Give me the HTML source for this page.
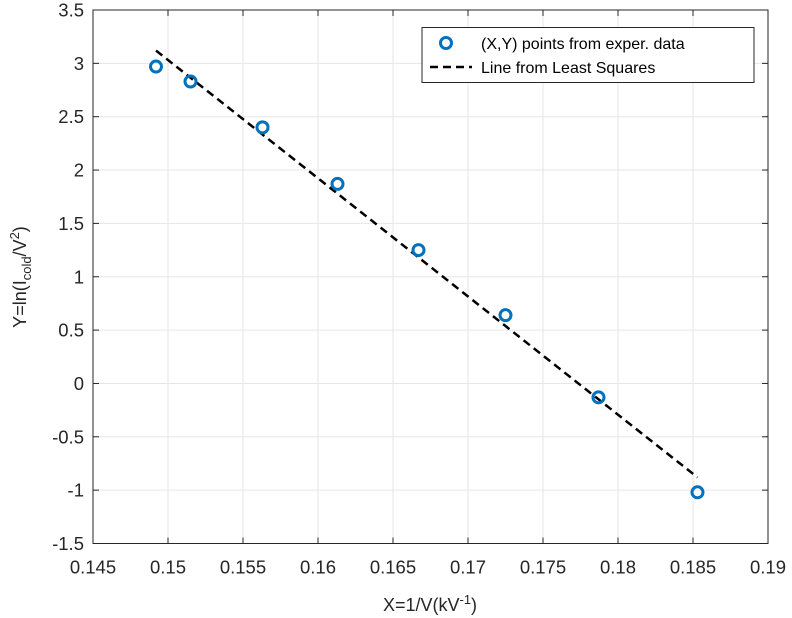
<!DOCTYPE html>
<html><head><meta charset="utf-8"><style>
body{margin:0;background:#fff;}
svg{display:block;font-family:"Liberation Sans",sans-serif;}
</style></head><body>
<svg id="chart" width="792" height="618">
<rect width="792" height="618" fill="#fff"/>
<g id="grid"></g>
<g id="xt"></g>
<g id="yt"></g>
<g id="marks"></g>
<rect x="93" y="10" width="675" height="533.5" fill="none" stroke="#262626" stroke-width="1"/>
<text x="430" y="611" font-size="18" fill="#262626" text-anchor="middle">X=1/V(kV<tspan dy="-7" font-size="13">-1</tspan><tspan dy="7">)</tspan></text>
<text transform="translate(26,277) rotate(-90)" font-size="18" fill="#262626" text-anchor="middle">Y=ln(I<tspan dy="5" font-size="13">cold</tspan><tspan dy="-5">/V</tspan><tspan dy="-7" font-size="13">2</tspan><tspan dy="7">)</tspan></text>
<g>
<rect x="422" y="27.5" width="332" height="55" fill="#fff" stroke="#262626" stroke-width="1"/>
<circle cx="446" cy="43" r="5.5" fill="none" stroke="#0072BD" stroke-width="3"/>
<text x="481" y="49" font-size="16" fill="#000">(X,Y) points from exper. data</text>
<line x1="430" y1="67" x2="472" y2="67" stroke="#000" stroke-width="2.5" stroke-dasharray="8,5"/>
<text x="481" y="73" font-size="16" fill="#000">Line from Least Squares</text>
</g>
</svg>
<script>
const xTicks=[0.145,0.15,0.155,0.16,0.165,0.17,0.175,0.18,0.185,0.19];
const yTicks=[3.5,3,2.5,2,1.5,1,0.5,0,-0.5,-1,-1.5];
const ptsX=[0.1492,0.1515,0.1563,0.1613,0.1667,0.1725,0.1787,0.1853];
const ptsY=[2.97,2.83,2.40,1.87,1.25,0.64,-0.13,-1.02];
const lineX=[0.1492,0.1853];
const lineY=[3.12,-0.88];
const X0=93,X1=768,Y0=543.5,Y1=10;
const sx=v=>X0+(v-0.145)/(0.19-0.145)*(X1-X0);
const sy=v=>Y0-(v+1.5)/5*(Y0-Y1);
const NS="http://www.w3.org/2000/svg";
function mk(t,a,p){const e=document.createElementNS(NS,t);for(const k in a)e.setAttribute(k,a[k]);p.appendChild(e);return e;}
const grid=document.getElementById('grid'),xt=document.getElementById('xt'),yt=document.getElementById('yt'),marks=document.getElementById('marks');
xTicks.forEach(v=>{const x=sx(v);
const g=mk('line',{x1:x,x2:x,y1:Y1,y2:Y0,stroke:'#e6e6e6','stroke-width':1},grid);


mk('line',{x1:x,x2:x,y1:Y0,y2:Y0-6,stroke:'#262626'},xt);
mk('line',{x1:x,x2:x,y1:Y1,y2:Y1+6,stroke:'#262626'},xt);
const t=mk('text',{x:x,y:Y0+30,'font-size':18.5,fill:'#262626','text-anchor':'middle'},xt);t.textContent=String(v);

});
yTicks.forEach(v=>{const y=sy(v);
const g=mk('line',{x1:X0,x2:X1,y1:y,y2:y,stroke:'#e6e6e6','stroke-width':1},grid);


mk('line',{x1:X0,x2:X0+6,y1:y,y2:y,stroke:'#262626'},yt);
mk('line',{x1:X1,x2:X1-6,y1:y,y2:y,stroke:'#262626'},yt);
const t=mk('text',{x:X0-9,y:y+6.5,'font-size':18.5,fill:'#262626','text-anchor':'end'},yt);t.textContent=String(v);

});
const ln=mk('line',{x1:sx(lineX[0]),y1:sy(lineY[0]),x2:sx(lineX[1]),y2:sy(lineY[1]),stroke:'#000','stroke-width':2.5,'stroke-dasharray':'8,5'},marks);


ptsX.forEach((v,i)=>{const c=mk('circle',{cx:sx(v),cy:sy(ptsY[i]),r:5.5,fill:'none',stroke:'#0072BD','stroke-width':3},marks);

});
</script>
</body></html>
